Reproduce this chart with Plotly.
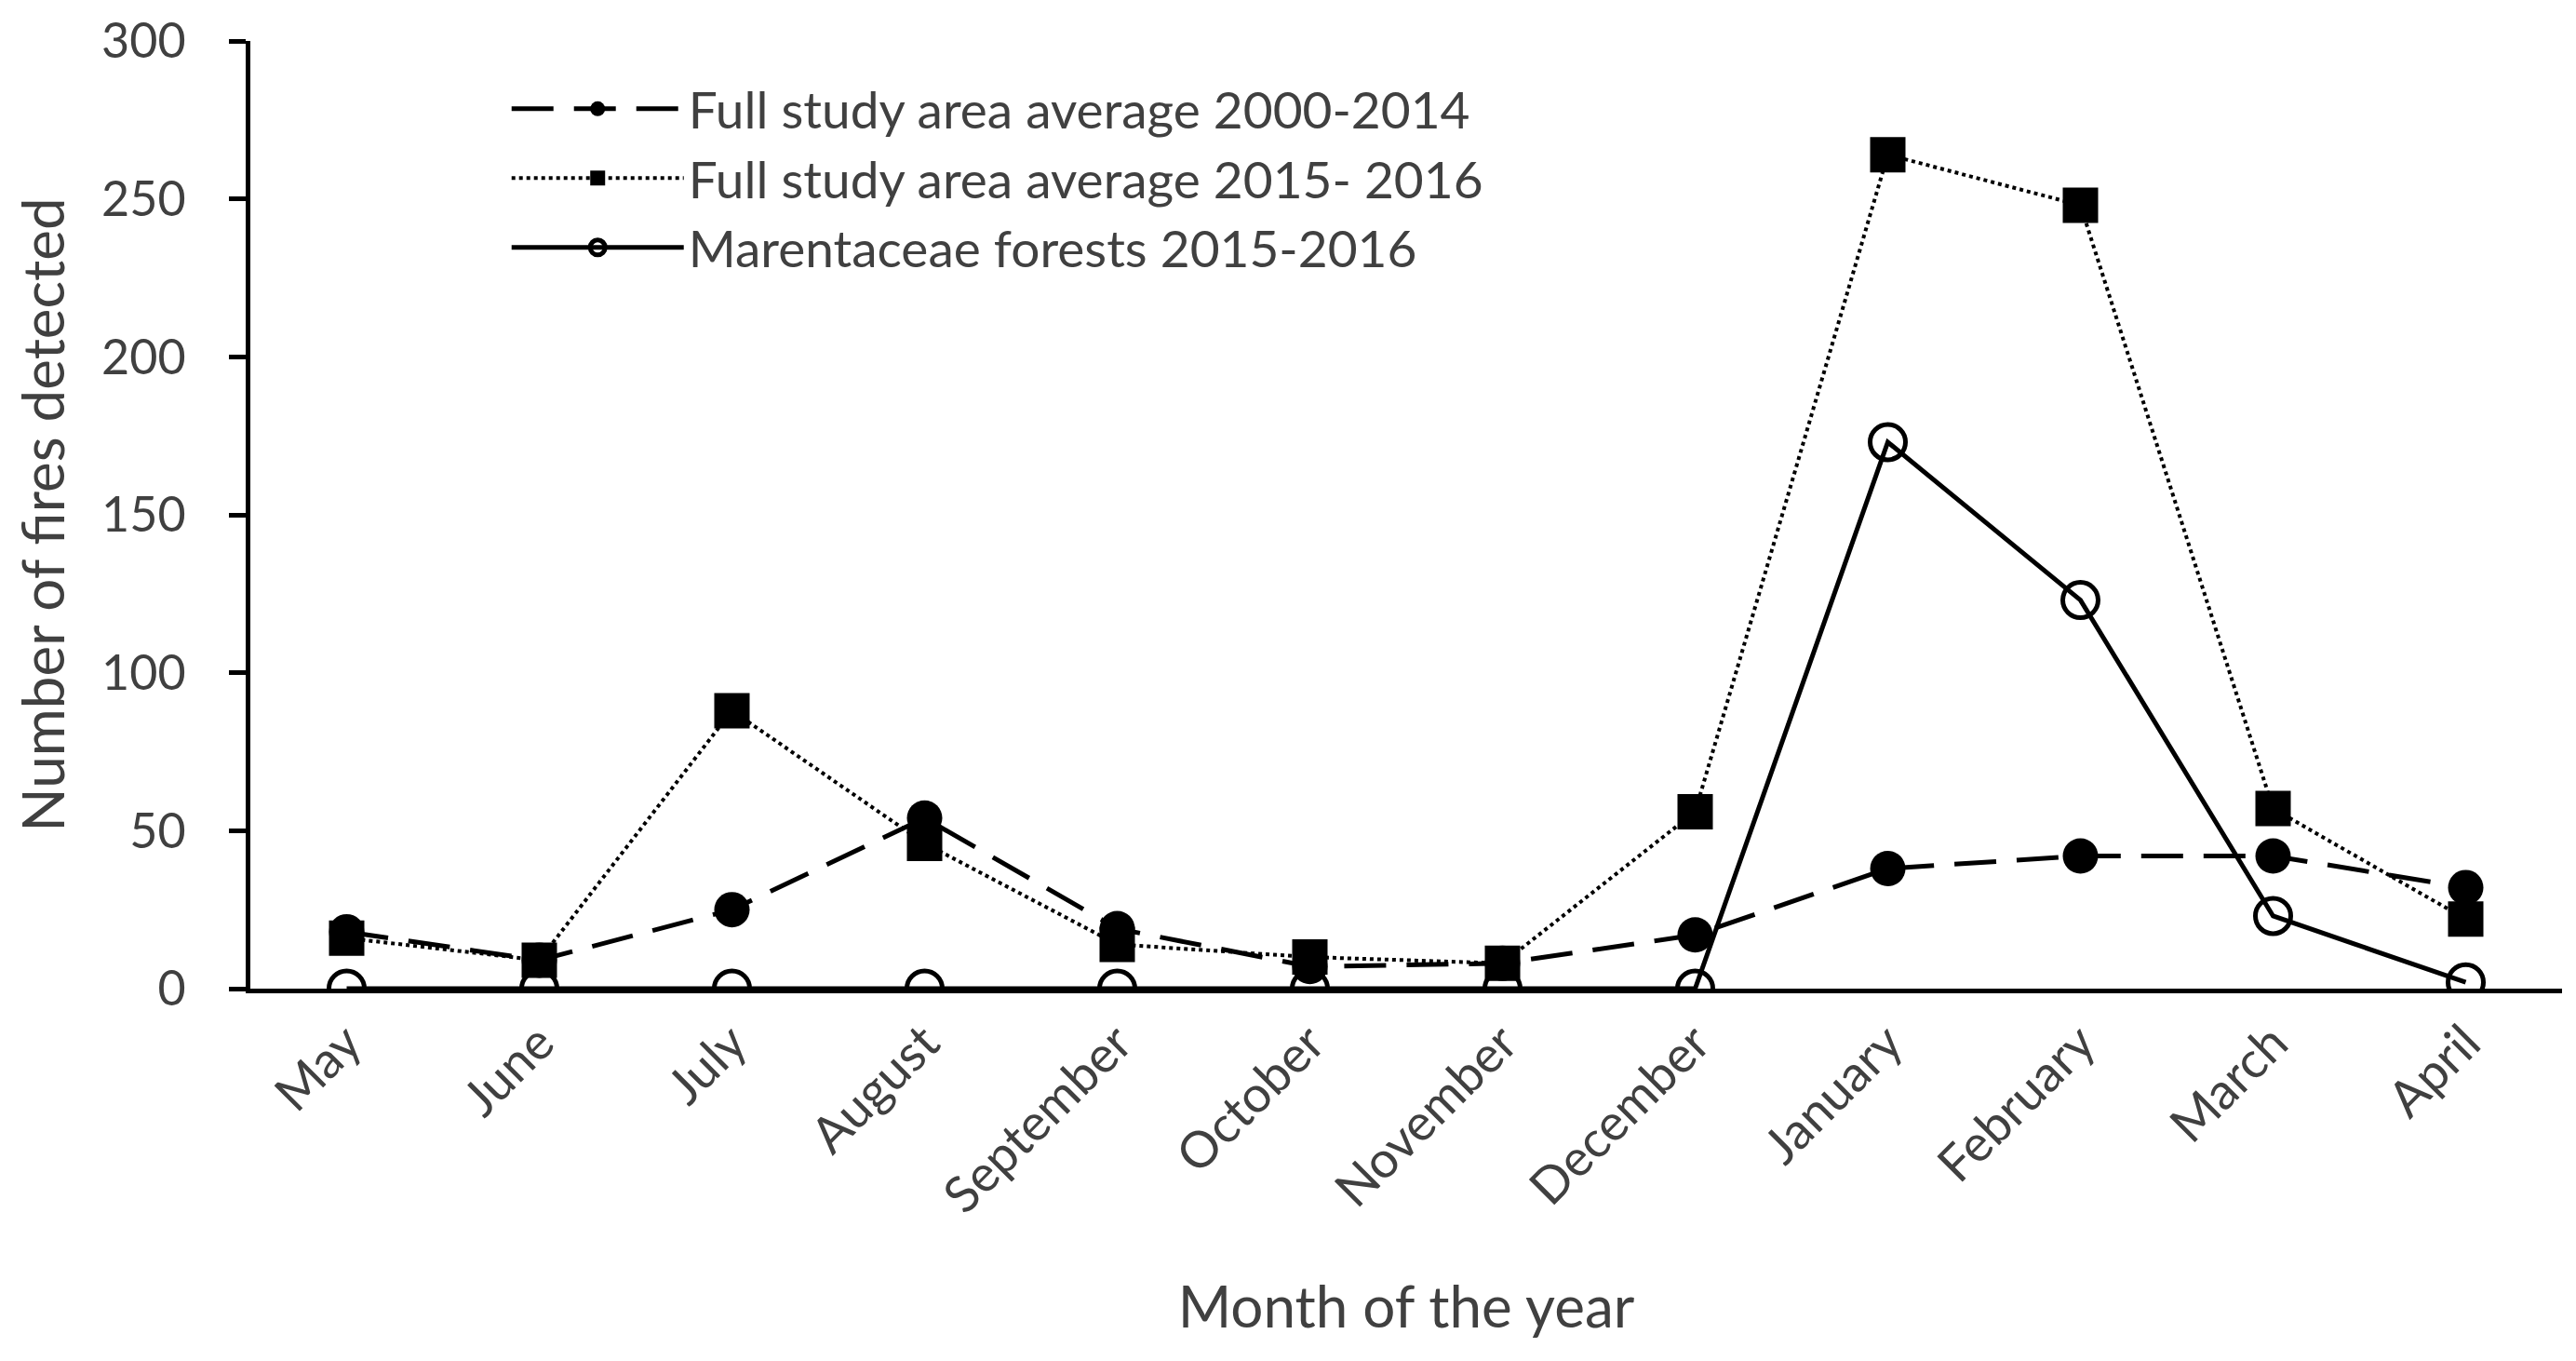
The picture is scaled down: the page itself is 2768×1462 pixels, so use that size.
import plotly.graph_objects as go

months = ["May", "June", "July", "August", "September", "October", "November",
          "December", "January", "February", "March", "April"]
avg_2000_2014 = [18, 9, 25, 54, 19, 7, 8, 17, 38, 42, 42, 32]
avg_2015_2016 = [16, 9, 88, 46, 14, 10, 8, 56, 264, 248, 57, 22]
marant_2015_2016 = [0, 0, 0, 0, 0, 0, 0, 0, 173, 123, 23, 2]
y_ticks = [0, 50, 100, 150, 200, 250, 300]

FONT = "Lato"
TXT = "#404040"

fig = go.Figure()
fig.add_trace(go.Scatter(
    x=months, y=avg_2000_2014, mode="lines+markers",
    name="Full study area average 2000-2014",
    line=dict(color="black", width=5, dash="45px,22px"),
    marker=dict(symbol="circle", size=38, color="black"),
))
fig.add_trace(go.Scatter(
    x=months, y=avg_2015_2016, mode="lines+markers",
    name="Full study area average 2015- 2016",
    line=dict(color="black", width=4, dash="dot"),
    marker=dict(symbol="square", size=38, color="black"),
))
fig.add_trace(go.Scatter(
    x=months, y=marant_2015_2016, mode="lines+markers",
    name="Marentaceae forests 2015-2016",
    line=dict(color="black", width=5),
    marker=dict(symbol="circle-open", size=38, color="black", line=dict(width=5, color="black")),
))

fig.update_layout(
    width=2768, height=1462,
    margin=dict(l=261, r=23, t=36, b=408),
    paper_bgcolor="white", plot_bgcolor="white",
    font=dict(family=FONT, color=TXT, size=50),
    showlegend=True,
    legend=dict(x=0.111, y=0.97, xanchor="left", yanchor="top",
                font=dict(family=FONT, size=55, color=TXT),
                bgcolor="rgba(0,0,0,0)", itemwidth=185, tracegroupgap=0),
    xaxis=dict(
        type="category", range=[-0.5, 11.5], automargin=False,
        showline=True, linecolor="black", linewidth=5,
        showgrid=False, ticks="", tickangle=-45,
        tickfont=dict(family=FONT, size=54, color=TXT),
        title=dict(text="Month of the year", font=dict(family=FONT, size=62, color=TXT), standoff=70),
        zeroline=False,
    ),
    yaxis=dict(
        range=[0, 300], tickvals=y_ticks, automargin=False,
        showline=True, linecolor="black", linewidth=5,
        showgrid=False, ticks="outside", ticklen=18, tickwidth=5, tickcolor="black",
        ticklabelstandoff=36,
        tickfont=dict(family=FONT, size=52, color=TXT),
        title=dict(text="Number of fires detected", font=dict(family=FONT, size=62, color=TXT), standoff=30),
        zeroline=False,
    ),
)

fig.write_html("out.html")
